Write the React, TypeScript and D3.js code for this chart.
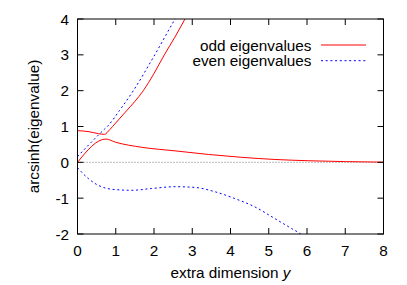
import React from 'react';
import * as d3 from 'd3';

// odd eigenvalues (red, solid)
const oddUpper: [number, number][] = [
  [0, 0.885], [0.3, 0.855], [0.55, 0.8], [0.7, 0.78], [0.85, 0.92], [1.0, 1.1],
  [1.25, 1.4], [1.5, 1.7], [1.72, 2.0], [2.0, 2.48], [2.27, 3.0], [2.55, 3.5],
  [2.81, 4.0], [3.0, 4.35],
];
const oddLower: [number, number][] = [
  [0, 0], [0.74, 0.65], [1.0, 0.56], [1.68, 0.42], [2.55, 0.32], [3.42, 0.22],
  [4.29, 0.14], [5.16, 0.08], [6.03, 0.045], [7, 0.02], [8, 0.005],
];

// even eigenvalues (blue, dotted)
const evenUpper: [number, number][] = [
  [0, 0.16], [0.35, 0.55], [0.7, 0.92], [0.78, 1.0], [1.1, 1.45], [1.46, 2.0],
  [2.02, 3.0], [2.55, 4.0], [2.8, 4.45],
];
const evenLower: [number, number][] = [
  [0, -0.15], [0.28, -0.45], [0.54, -0.64], [0.98, -0.76], [1.42, -0.78],
  [1.94, -0.73], [2.55, -0.68], [3.07, -0.7], [3.59, -0.82], [4.11, -1.01],
  [4.63, -1.24], [5.16, -1.57], [5.6, -1.85], [5.82, -1.99], [6.0, -2.15],
];

const xTicks = [0, 1, 2, 3, 4, 5, 6, 7, 8];
const yTicks = [-2, -1, 0, 1, 2, 3, 4];
const legendItems = ['odd eigenvalues', 'even eigenvalues'];

const W = 407;
const H = 285;
const left = 77.5;
const right = 383.5;
const top = 19;
const bottom = 234;

const App = () => {
  const x = d3.scaleLinear().domain([0, 8]).range([left, right]);
  const y = d3.scaleLinear().domain([-2, 4]).range([bottom, top]);
  const line = d3
    .line<[number, number]>()
    .x((d) => x(d[0]))
    .y((d) => y(d[1]))
    .curve(d3.curveMonotoneX);

  const red = '#ff0000';
  const blue = '#0000ff';
  const blueDash = '2,2.7';
  const font = 'Liberation Sans, Arial, Helvetica, sans-serif';

  return (
    <svg
      width={W}
      height={H}
      style={{ position: 'absolute', left: 0, top: 0, background: '#fff' }}
      fontFamily={font}
      fontSize={15.3}
    >
      <defs>
        <clipPath id="plot">
          <rect x={left} y={top} width={right - left} height={bottom - top} />
        </clipPath>
      </defs>

      {/* zero line */}
      <line
        x1={x(0)}
        x2={x(8)}
        y1={y(0)}
        y2={y(0)}
        stroke="#555"
        strokeWidth={0.8}
        strokeDasharray="1,2"
      />

      <g clipPath="url(#plot)" fill="none" strokeWidth={1}>
        <path d={line(oddUpper) ?? ''} stroke={red} />
        <path d={line(oddLower) ?? ''} stroke={red} />
        <path d={line(evenUpper) ?? ''} stroke={blue} strokeDasharray={blueDash} />
        <path d={line(evenLower) ?? ''} stroke={blue} strokeDasharray={blueDash} />
      </g>

      {/* ticks, mirrored on all sides */}
      <g stroke="#000" strokeWidth={1}>
        {xTicks.map((t) => (
          <g key={'x' + t}>
            <line x1={x(t)} x2={x(t)} y1={bottom} y2={bottom - 6} />
            <line x1={x(t)} x2={x(t)} y1={top} y2={top + 6} />
          </g>
        ))}
        {yTicks.map((t) => (
          <g key={'y' + t}>
            <line x1={left} x2={left + 6} y1={y(t)} y2={y(t)} />
            <line x1={right} x2={right - 6} y1={y(t)} y2={y(t)} />
          </g>
        ))}
      </g>
      <rect
        x={left}
        y={top}
        width={right - left}
        height={bottom - top}
        fill="none"
        stroke="#000"
        strokeWidth={1}
      />

      {xTicks.map((t) => (
        <text key={'xl' + t} x={x(t)} y={255.5} textAnchor="middle">
          {t}
        </text>
      ))}
      {yTicks.map((t) => (
        <text key={'yl' + t} x={69} y={y(t)} dy="0.36em" textAnchor="end">
          {t}
        </text>
      ))}

      <text x={(left + right) / 2} y={277.5} textAnchor="middle">
        extra dimension <tspan fontStyle="italic">y</tspan>
      </text>
      <text
        transform={`translate(38.5,${(top + bottom) / 2}) rotate(-90)`}
        textAnchor="middle"
      >
        arcsinh(eigenvalue)
      </text>

      {legendItems.map((name, i) => (
        <g key={name}>
          <text x={311.5} y={45 + i * 15.7} dy="0.36em" textAnchor="end">
            {name}
          </text>
          <line
            x1={321}
            x2={366}
            y1={45 + i * 15.7}
            y2={45 + i * 15.7}
            stroke={i === 0 ? red : blue}
            strokeWidth={1}
            strokeDasharray={i === 0 ? undefined : blueDash}
          />
        </g>
      ))}
    </svg>
  );
};

export default App;
